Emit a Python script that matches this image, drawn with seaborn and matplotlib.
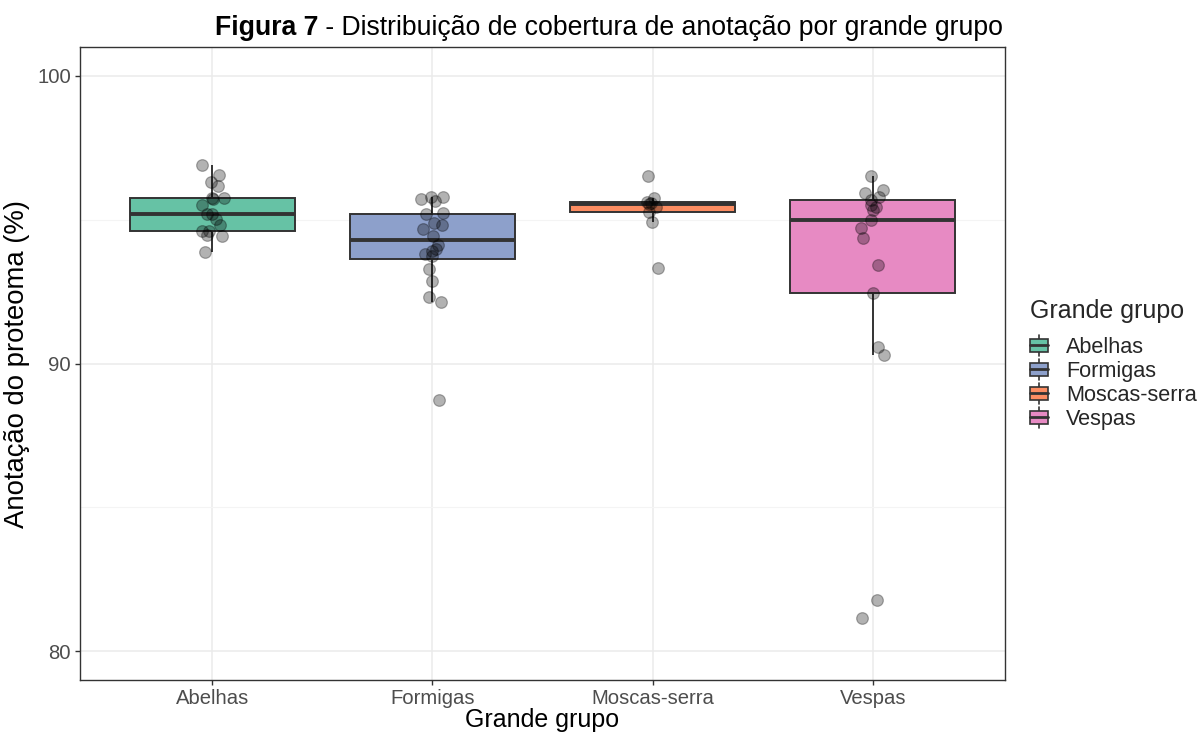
import numpy as np
import pandas as pd
import matplotlib
matplotlib.use("Agg")
import matplotlib.pyplot as plt
import seaborn as sns
from matplotlib.patches import Rectangle, Patch
from matplotlib.lines import Line2D
from matplotlib.legend_handler import HandlerBase
from matplotlib.ticker import MultipleLocator

# Annotation coverage (% of proteome) per genome, by major group
grupos = ["Abelhas", "Formigas", "Moscas-serra", "Vespas"]
abelhas = [96.91, 96.55, 96.30, 96.18, 95.75, 95.72, 95.75, 95.52, 95.20,
           95.20, 95.02, 94.83, 94.62, 94.59, 94.47, 94.44, 93.89]
formigas = [95.80, 95.80, 95.72, 95.66, 95.22, 95.20, 94.87, 94.83, 94.68,
            94.44, 94.13, 93.98, 93.92, 93.81, 93.75, 93.30, 92.86, 92.30,
            92.13, 88.74]
moscas_serra = [96.50, 95.74, 95.60, 95.58, 95.56, 95.45, 95.25, 94.91, 93.31]
vespas = [96.53, 96.03, 95.91, 95.77, 95.68, 95.51, 95.45, 95.34, 95.00,
          94.71, 94.36, 93.43, 92.44, 90.57, 90.31, 81.77, 81.17]
cores = ["#66C2A5", "#8DA0CB", "#FC8D62", "#E78AC3"]

valores = [abelhas, formigas, moscas_serra, vespas]
df = pd.DataFrame({
    "Grande grupo": np.repeat(grupos, [len(v) for v in valores]),
    "Cobertura": np.concatenate(valores),
})
paleta = dict(zip(grupos, cores))

EDGE = "#333333"
sns.set_theme(style="white")
plt.rcParams["font.family"] = ["Liberation Sans", "DejaVu Sans"]

fig = plt.figure(figsize=(12.01, 7.33), dpi=100)
ax = fig.add_axes([80 / 1201, 1 - 680 / 733, 925 / 1201, 633 / 733])

sns.boxplot(data=df, x="Grande grupo", y="Cobertura", hue="Grande grupo",
            order=grupos, hue_order=grupos, palette=paleta, width=0.75,
            showfliers=False, showcaps=False, whis=1.5, linecolor=EDGE,
            linewidth=1.4, saturation=1, legend=False, dodge=False,
            medianprops=dict(linewidth=2.8, color=EDGE), ax=ax, zorder=2)

np.random.seed(7)
sns.stripplot(data=df, x="Grande grupo", y="Cobertura", order=grupos,
              color="black", alpha=0.3, size=8.4, jitter=0.055,
              edgecolor="black", linewidth=0.9, ax=ax, zorder=3)

ax.set_xlim(-0.6, 3.6)
ax.set_ylim(79, 101)
ax.yaxis.set_major_locator(MultipleLocator(10))
ax.yaxis.set_minor_locator(MultipleLocator(5))
ax.grid(True, which="major", color="#EBEBEB", linewidth=1.1, zorder=0)
ax.grid(True, which="minor", axis="y", color="#F4F4F4", linewidth=0.8, zorder=0)
ax.set_axisbelow(True)
for s in ax.spines.values():
    s.set_color(EDGE)
    s.set_linewidth(1.0)
    s.set_visible(True)
ax.tick_params(axis="both", which="major", length=3.5, width=1.0, color=EDGE,
               labelcolor="#4D4D4D", labelsize=14.6, pad=3, left=True, bottom=True)
ax.tick_params(axis="both", which="minor", length=0)

ax.set_xlabel("Grande grupo", fontsize=18, color="black", labelpad=0)
ax.set_ylabel("Anotação do proteoma (%)", fontsize=19.8, color="black", labelpad=5)


class BoxKeyHandler(HandlerBase):
    def create_artists(self, legend, orig_handle, xdescent, ydescent,
                       width, height, fontsize, trans):
        fc = orig_handle.get_facecolor()
        x0, y0 = -xdescent, -ydescent
        cx = x0 + width / 2
        whisk = Line2D([cx, cx], [y0 - height * 0.25, y0 + height * 1.25],
                       color=EDGE, lw=1.2, transform=trans)
        rect = Rectangle((x0, y0 + height * 0.05), width, height * 0.9,
                         facecolor=fc, edgecolor=EDGE, lw=1.2, transform=trans)
        med = Line2D([x0, x0 + width], [y0 + height / 2] * 2,
                     color=EDGE, lw=2.0, transform=trans)
        return [whisk, rect, med]


handles = [Patch(facecolor=c) for c in cores]
leg = fig.legend(handles, grupos, title="Grande grupo",
                 handler_map={Patch: BoxKeyHandler()},
                 loc="upper left", bbox_to_anchor=(1030 / 1201, 1 - 299 / 733),
                 frameon=False, fontsize=15.6, title_fontsize=18,
                 handlelength=0.85, handleheight=0.62, handletextpad=0.8,
                 labelspacing=0.14, borderaxespad=0, borderpad=0)
leg._legend_box.align = "left"
leg._legend_box.sep = 10

# Title with a bold figure number followed by regular text
ty = 1 - 35 / 733
t1 = fig.text(0, ty, "Figura 7", fontsize=19.2, fontweight="bold",
              va="baseline", ha="left", color="black")
t2 = fig.text(0, ty, " - Distribuição de cobertura de anotação por grande grupo",
              fontsize=19.2, va="baseline", ha="left", color="black")
r = fig.canvas.get_renderer()
w1 = t1.get_window_extent(r).width
w2 = t2.get_window_extent(r).width
cx = 609
x0 = cx - (w1 + w2) / 2
t1.set_x(x0 / 1201)
t2.set_x((x0 + w1) / 1201)

fig.savefig("out.png", dpi=100)
